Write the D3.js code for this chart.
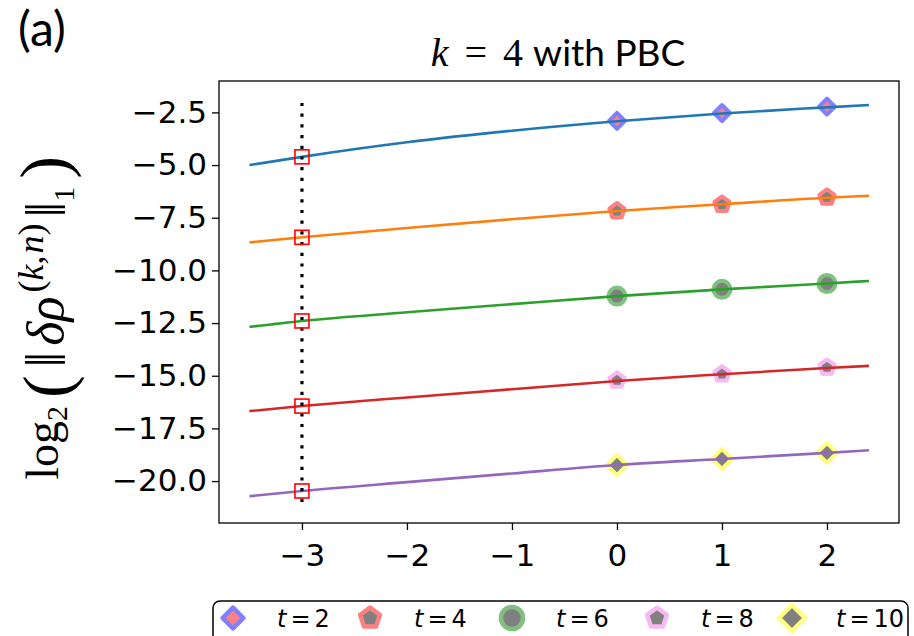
<!DOCTYPE html>
<meta charset="utf-8">
<head>
<script src="https://d3js.org/d3.v7.min.js"></script>
<style>
  body { margin: 0; background: #fff; }
</style>
</head>
<body>
<svg id="chart" width="914" height="636"></svg>
<script>

// fitted curves
var xLine   = [-3.5, -3, -2, -1, 0, 1, 2, 2.4];
var lineT2  = [-5.0, -4.61, -3.92, -3.37, -2.92, -2.55, -2.26, -2.15];
var lineT4  = [-8.67, -8.43, -7.99, -7.57, -7.18, -6.86, -6.55, -6.46];
var lineT6  = [-12.68, -12.40, -11.99, -11.60, -11.22, -10.90, -10.62, -10.50];
var lineT8  = [-16.68, -16.44, -16.03, -15.64, -15.25, -14.93, -14.63, -14.53];
var lineT10 = [-20.72, -20.47, -20.05, -19.64, -19.24, -18.95, -18.66, -18.54];

// measured points
var xMark   = [0, 1, 2];
var markT2  = [-2.90, -2.53, -2.23];
var markT4  = [-7.18, -6.87, -6.53];
var markT6  = [-11.22, -10.90, -10.62];
var markT8  = [-15.22, -14.92, -14.60];
var markT10 = [-19.24, -18.95, -18.66];

var xCut = -3;
var cutTop = -2.05, cutBottom = -21.0;

var tLabels = ["2", "4", "6", "8", "10"];
var xTicks = [-3, -2, -1, 0, 1, 2];
var yTicks = [-2.5, -5.0, -7.5, -10.0, -12.5, -15.0, -17.5, -20.0];

var lineColors = ["#1f77b4", "#ff7f0e", "#2ca02c", "#d62728", "#9467bd"];
var edgeColors = ["#8080ff", "#ff8080", "#80c080", "#f7b8f3", "#ffff80"];
var faceColors = ["#ff8080", "#808080", "#808080", "#808080", "#808080"];
var shapes     = ["diamond", "pentagon", "circle", "pentagon", "diamond"];
var sizes      = [8, 8, 8.5, 8, 10];

var lines = [lineT2, lineT4, lineT6, lineT8, lineT10];
var marks = [markT2, markT4, markT6, markT8, markT10];

var svg = d3.select("#chart");

var x = d3.scaleLinear().domain([-3.79, 2.686]).range([219, 899]);
var y = d3.scaleLinear().domain([-21.99, -1.01]).range([523, 81]);

// marker path centred on 0,0
function markerPath(shape, r) {
	if (shape == "circle") return d3.symbol(d3.symbolCircle, Math.PI * r * r)();
	var n = shape == "diamond" ? 4 : 5;
	var pts = d3.range(n).map(function(i) {
		var a = -Math.PI / 2 + i * 2 * Math.PI / n;
		return [r * Math.cos(a), r * Math.sin(a)];
	});
	return d3.line().curve(d3.curveLinearClosed)(pts);
}

// axes
svg.append("g")
	.attr("transform", "translate(219,0)")
	.call(d3.axisLeft(y).tickValues(yTicks).tickSize(7).tickSizeOuter(0).tickPadding(5).tickFormat(d3.format(".1f")))
	.call(function(g) {
		g.select(".domain").remove();
		g.selectAll("line").attr("stroke", "#000").attr("stroke-width", 1.3);
		g.selectAll("text").attr("font-family", "DejaVu Sans").attr("font-size", 31).attr("fill", "#000");
	});

svg.append("g")
	.attr("transform", "translate(0,523)")
	.call(d3.axisBottom(x).tickValues(xTicks).tickSize(7).tickSizeOuter(0).tickPadding(14).tickFormat(d3.format("d")))
	.call(function(g) {
		g.select(".domain").remove();
		g.selectAll("line").attr("stroke", "#000").attr("stroke-width", 1.3);
		g.selectAll("text").attr("font-family", "DejaVu Sans").attr("font-size", 31).attr("fill", "#000");
	});

// markers first, curves over them
var plot = svg.append("g");

marks.forEach(function(m, k) {
	plot.append("g").selectAll("path")
		.data(m)
		.enter().append("path")
		.attr("d", markerPath(shapes[k], sizes[k]))
		.attr("transform", function(d, i) { return "translate(" + x(xMark[i]) + "," + y(d) + ")"; })
		.attr("fill", faceColors[k])
		.attr("stroke", edgeColors[k])
		.attr("stroke-width", 4)
		.attr("stroke-linejoin", "round");
});

var line = d3.line()
	.x(function(d, i) { return x(xLine[i]); })
	.y(function(d) { return y(d); })
	.curve(d3.curveMonotoneX);

lines.forEach(function(l, k) {
	plot.append("path")
		.attr("d", line(l))
		.attr("fill", "none")
		.attr("stroke", lineColors[k])
		.attr("stroke-width", 2.6);
});

// dotted cut at x = -3
plot.append("line")
	.attr("x1", x(xCut)).attr("x2", x(xCut))
	.attr("y1", y(cutTop)).attr("y2", y(cutBottom))
	.attr("stroke", "#000")
	.attr("stroke-width", 3.2)
	.attr("stroke-dasharray", "3.2,7.5");

var iCut = xLine.indexOf(xCut);
plot.append("g").selectAll("rect")
	.data(lines)
	.enter().append("rect")
	.attr("x", x(xCut) - 7)
	.attr("y", function(d) { return y(d[iCut]) - 7; })
	.attr("width", 14).attr("height", 14)
	.attr("fill", "none")
	.attr("stroke", "#ff0000")
	.attr("stroke-width", 1.6);

// spines
svg.append("rect")
	.attr("x", 219).attr("y", 81)
	.attr("width", 680).attr("height", 442)
	.attr("fill", "none")
	.attr("stroke", "#000")
	.attr("stroke-width", 1.3);

// title
var title = svg.append("text")
	.attr("x", 558).attr("y", 66)
	.attr("text-anchor", "middle");
title.append("tspan").attr("font-family", "Liberation Serif").attr("font-size", 40).attr("font-style", "italic").text("k");
title.append("tspan").attr("font-family", "Liberation Serif").attr("font-size", 40).attr("dx", 16).text("=");
title.append("tspan").attr("font-family", "Liberation Serif").attr("font-size", 40).attr("dx", 16).text("4");
title.append("tspan").attr("font-family", "Lato").attr("font-size", 37).attr("dx", 10).text("with PBC");

// panel tag
svg.append("text")
	.attr("x", 18).attr("y", 46)
	.attr("font-family", "Lato")
	.attr("font-size", 48)
	.text("(a)");

// y label
var yl = svg.append("text")
	.attr("transform", "translate(58,318) rotate(-90)")
	.attr("text-anchor", "middle")
	.attr("font-family", "Liberation Serif")
	.attr("font-size", 46);
yl.append("tspan").text("log");
yl.append("tspan").attr("font-size", 30).attr("dy", 9).text("2");
yl.append("tspan").attr("font-size", 68).attr("font-weight", 300).attr("dx", 8).attr("dy", 3).text("(");
yl.append("tspan").attr("font-size", 56).attr("dx", 8).attr("dy", -5).text("\u2016");
yl.append("tspan").attr("font-size", 52).attr("font-style", "italic").attr("dx", 6).attr("dy", -2).text("\u03b4\u03c1");
yl.append("tspan").attr("font-size", 36).attr("dx", 4).attr("dy", -20).text("(");
yl.append("tspan").attr("font-size", 36).attr("font-style", "italic").text("k");
yl.append("tspan").attr("font-size", 36).text(",");
yl.append("tspan").attr("font-size", 36).attr("font-style", "italic").attr("dx", 2).text("n");
yl.append("tspan").attr("font-size", 36).text(")");
yl.append("tspan").attr("font-size", 56).attr("dx", 6).attr("dy", 22).text("\u2016");
yl.append("tspan").attr("font-size", 30).attr("dy", 9).text("1");
yl.append("tspan").attr("font-size", 68).attr("dx", 8).attr("dy", -7).text(")");

// legend
var legend = svg.append("g");
legend.append("rect")
	.attr("x", 213).attr("y", 601)
	.attr("width", 695).attr("height", 60)
	.attr("rx", 7)
	.attr("fill", "#fff")
	.attr("stroke", "#000")
	.attr("stroke-width", 1.5);

var legX = [233, 370, 512, 657, 792];
tLabels.forEach(function(t, k) {
	legend.append("path")
		.attr("d", markerPath(shapes[k], sizes[k] * 1.3))
		.attr("transform", "translate(" + legX[k] + ",618)")
		.attr("fill", faceColors[k])
		.attr("stroke", edgeColors[k])
		.attr("stroke-width", 4.5)
		.attr("stroke-linejoin", "round");
	var lt = legend.append("text")
		.attr("x", legX[k] + 44).attr("y", 627)
		.attr("font-family", "DejaVu Sans")
		.attr("font-size", 24)
		.attr("fill", "#000");
	lt.append("tspan").attr("font-style", "italic").text("t");
	lt.append("tspan").attr("dx", 4).text("=");
	lt.append("tspan").attr("dx", 4).text(t);
});

</script>
</body>
